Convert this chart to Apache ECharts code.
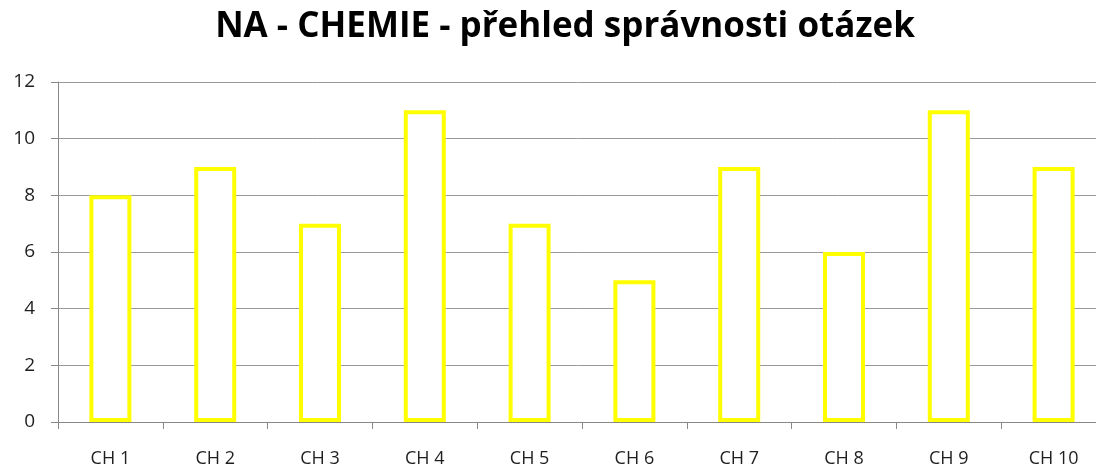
<!DOCTYPE html>
<html><head><meta charset="utf-8">
<script src="https://cdn.jsdelivr.net/npm/echarts@6/dist/echarts.min.js"></script>
<style>html,body{margin:0;padding:0;background:#fff}#c{width:1096px;height:470px}</style>
</head><body><div id="c"></div>
<script>
const titleText = 'NA - CHEMIE - přehled správnosti otázek';
const categories = ['CH 1','CH 2','CH 3','CH 4','CH 5','CH 6','CH 7','CH 8','CH 9','CH 10'];
const values = [8, 9, 7, 11, 7, 5, 9, 6, 11, 9];
const yTicks = [0, 2, 4, 6, 8, 10, 12];

const chart = echarts.init(document.getElementById('c'));
chart.setOption({
  animation: false,
  backgroundColor: '#ffffff',
  title: {
    text: titleText,
    left: 560, top: 5, textAlign: 'center',
    textStyle: {fontFamily: 'Open Sans', fontWeight: 'bold', fontSize: 35, color: '#000'}
  },
  grid: {left: 58, top: 82, width: 1048, height: 340, containLabel: false, outerBoundsMode: 'none'},
  xAxis: {
    type: 'category', data: categories,
    axisLine: {lineStyle: {color: '#888', width: 1}},
    axisTick: {show: true, length: 7, lineStyle: {color: '#888'}},
    axisLabel: {margin: 28, fontFamily: 'Open Sans', fontSize: 18, color: '#1f1f1f'},
    splitLine: {show: false}
  },
  yAxis: {
    type: 'value', min: yTicks[0], max: yTicks[yTicks.length-1], interval: 2,
    axisLine: {show: true, lineStyle: {color: '#888', width: 1}},
    axisTick: {show: true, length: 7, lineStyle: {color: '#888'}},
    axisLabel: {margin: 23, fontFamily: 'Open Sans', fontSize: 19, color: '#1f1f1f'},
    splitLine: {show: true, lineStyle: {color: '#999', width: 1}}
  },
  series: [{
    type: 'bar', data: values, barWidth: 42,
    itemStyle: {color: '#ffffff', borderColor: '#ffff00', borderWidth: 4}
  }]
});
</script></body></html>
